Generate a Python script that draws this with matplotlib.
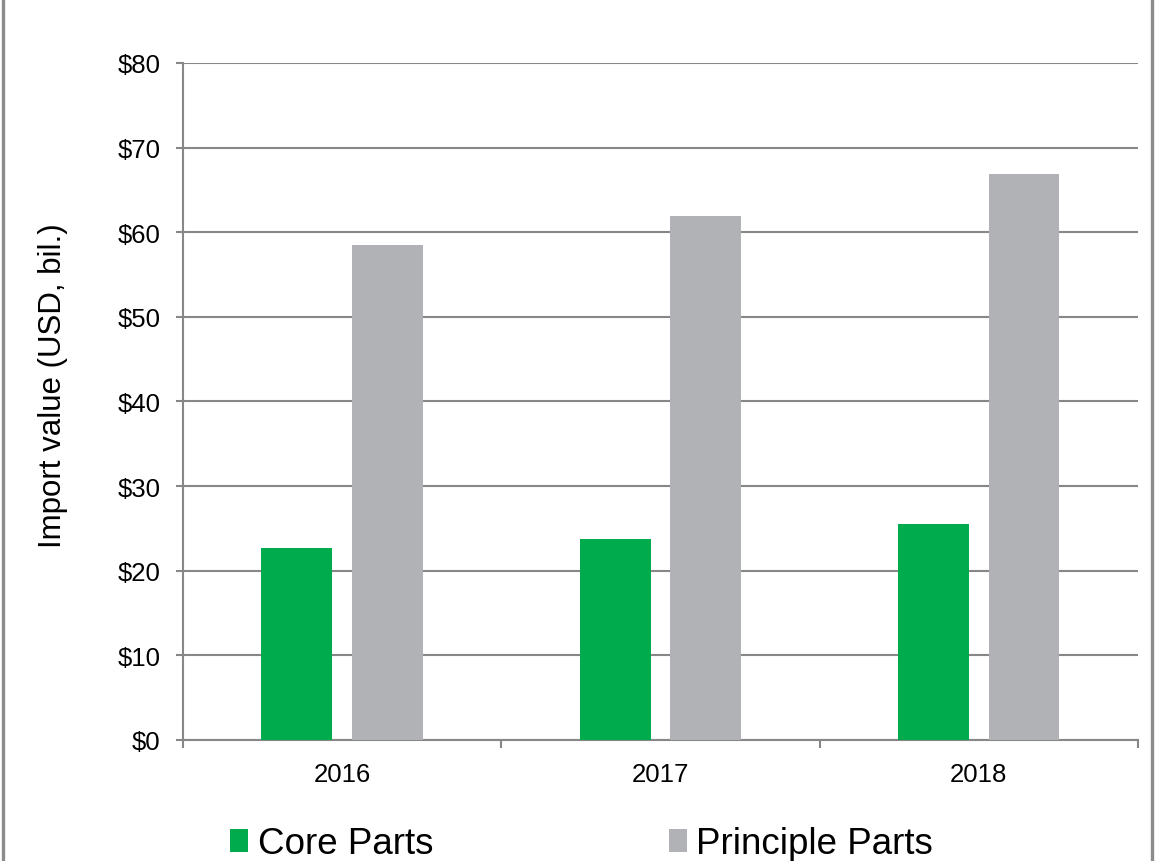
import numpy as np
import matplotlib.pyplot as plt
from matplotlib.patches import Rectangle
from matplotlib.ticker import FuncFormatter

# Datos (USD, miles de millones)
years = ["2016", "2017", "2018"]
core_parts = [22.7, 23.8, 25.5]
principle_parts = [58.5, 61.9, 66.9]

green = "#00AB4E"
grey = "#B1B2B5"
line_grey = "#878787"

plt.rcParams['font.family'] = ['Liberation Sans', 'DejaVu Sans']

fig = plt.figure(figsize=(11.58, 8.62), dpi=100)
ax = fig.add_axes([0.158, 0.1404, 0.8247, 0.7854])

x = np.arange(len(years))
w = 0.223
off = 0.142
ax.bar(x - off, core_parts, w, color=green, label="Core Parts", zorder=3)
ax.bar(x + off, principle_parts, w, color=grey, label="Principle Parts", zorder=3)

ax.set_xlim(-0.5, 2.5)
ax.set_ylim(0, 80)
ax.set_yticks(np.arange(0, 81, 10))
ax.yaxis.set_major_formatter(FuncFormatter(lambda v, p: f"${v:.0f}"))
ax.grid(axis="y", color=line_grey, linewidth=1.5, zorder=0)

ax.set_xticks(x)
ax.set_xticklabels(years)
ax.set_xticks([-0.5, 0.5, 1.5, 2.5], minor=True)
ax.tick_params(axis="x", which="major", length=0, pad=16, labelsize=18.5)
ax.tick_params(axis="x", which="minor", length=6, width=1.5, color=line_grey, direction="out")
ax.tick_params(axis="y", length=5, width=1.5, color=line_grey, pad=11, labelsize=18.5)

for s in ["top", "right"]:
    ax.spines[s].set_visible(False)
for s in ["left", "bottom"]:
    ax.spines[s].set_color(line_grey)
    ax.spines[s].set_linewidth(1.5)

ax.set_ylabel("Import value (USD, bil.)", fontsize=22.5, labelpad=36)
ax.yaxis.label.set_y(0.525)

leg = fig.legend(loc="center left", bbox_to_anchor=(230 / 1158, 1 - 845 / 862),
                 ncol=2, frameon=False, fontsize=26.5, borderpad=0, borderaxespad=0,
                 handlelength=0.5, handleheight=0.6, handletextpad=0.25,
                 columnspacing=6.4)

# Marco gris de la figura
fig.patches.append(Rectangle((0.0025, -0.02), 0.9923, 1.04, transform=fig.transFigure,
                             fill=False, edgecolor="#8C8C8C", linewidth=2.4))

fig.savefig("out.png", dpi=100)
